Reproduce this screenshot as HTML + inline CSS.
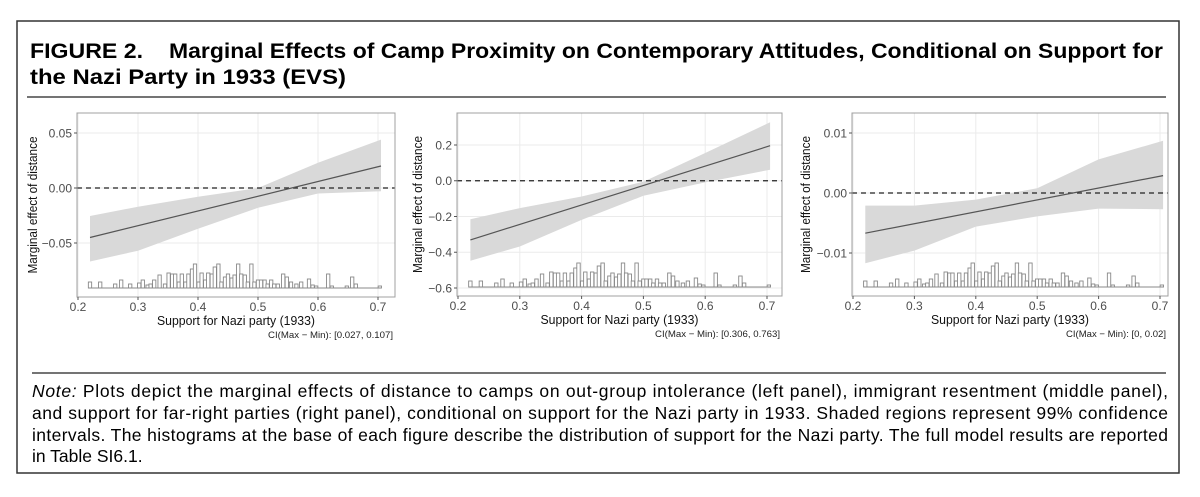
<!DOCTYPE html>
<html><head><meta charset="utf-8">
<style>
html,body{margin:0;padding:0;background:#fff;}
svg{display:block;}
text{font-family:"Liberation Sans",Arial,sans-serif;}
</style></head>
<body>
<svg id="fig" width="1200" height="497" viewBox="0 0 1200 497" xmlns="http://www.w3.org/2000/svg">
  <rect x="17" y="21" width="1162" height="452" fill="#fff" stroke="#333" stroke-width="1.5"/>
  <text x="30" y="58" font-size="21" font-weight="bold" textLength="113" lengthAdjust="spacingAndGlyphs">FIGURE 2.</text>
  <text x="169" y="58" font-size="21" font-weight="bold" textLength="994" lengthAdjust="spacingAndGlyphs">Marginal Effects of Camp Proximity on Contemporary Attitudes, Conditional on Support for</text>
  <text x="30" y="84" font-size="21" font-weight="bold" textLength="316" lengthAdjust="spacingAndGlyphs">the Nazi Party in 1933 (EVS)</text>
  <line x1="27" y1="97" x2="1166" y2="97" stroke="#222" stroke-width="1.3"/>
  <line x1="32" y1="373" x2="1166" y2="373" stroke="#222" stroke-width="1.3"/>
  <g id="panels"></g>
  <g font-size="17.5" fill="#000">
    <text x="32" y="397" textLength="1136" lengthAdjust="spacing"><tspan font-style="italic">Note:</tspan> Plots depict the marginal effects of distance to camps on out-group intolerance (left panel), immigrant resentment (middle panel),</text>
    <text x="32" y="419" textLength="1136" lengthAdjust="spacing">and support for far-right parties (right panel), conditional on support for the Nazi party in 1933. Shaded regions represent 99% confidence</text>
    <text x="32" y="441" textLength="1136" lengthAdjust="spacing">intervals. The histograms at the base of each figure describe the distribution of support for the Nazi party. The full model results are reported</text>
    <text x="32" y="462">in Table SI6.1.</text>
  </g>
</svg>
<script>
// shared histogram data (support for Nazi party bins)
const histX = [0.22,0.237,0.262,0.272,0.287,0.302,0.308,0.316,0.321,0.327,0.336,0.345,0.351,0.357,0.362,0.368,0.373,0.379,0.384,0.39,0.395,0.401,0.406,0.412,0.417,0.423,0.428,0.434,0.439,0.445,0.45,0.456,0.461,0.467,0.472,0.478,0.483,0.489,0.494,0.5,0.505,0.511,0.516,0.522,0.527,0.533,0.542,0.548,0.555,0.564,0.572,0.585,0.591,0.597,0.617,0.623,0.648,0.657,0.663,0.703];
const histCounts = [6,6,4,8,4,5,8,3,4,8,13,4,15,14,14,6,14,6,14,19,24,6,15,8,15,14,21,24,6,11,14,10,13,24,14,13,6,24,6,8,8,8,4,8,4,4,14,11,6,4,6,9,3,2,14,2,2,11,4,2];
const histBinWidth = 0.0055;

// panel 1: out-group intolerance
const p1Line = [-0.045, 0.020];
const ciX = [0.22,0.3,0.4,0.5,0.6,0.705];
const p1Upper = [-0.0255,-0.017,-0.008,0.0,0.023,0.044];
const p1Lower = [-0.0668,-0.057,-0.037,-0.018,-0.005,-0.003];
const p1Ticks = [0.05,0,-0.05];
const p1TickLabels = ["0.05","0.00","−0.05"];
// panel 2: immigrant resentment
const p2Line = [-0.331, 0.196];
const p2Upper = [-0.215,-0.153,-0.088,-0.006,0.155,0.327];
const p2Lower = [-0.447,-0.368,-0.219,-0.084,-0.009,0.062];
const p2Ticks = [0.2,0,-0.2,-0.4,-0.6];
const p2TickLabels = ["0.2","0.0","−0.2","−0.4","−0.6"];
// panel 3: far-right support
const p3Line = [-0.0067, 0.0029];
const p3Upper = [-0.0021,-0.0021,-0.0011,0.0008,0.0056,0.0087];
const p3Lower = [-0.0117,-0.0096,-0.0056,-0.0039,-0.0026,-0.0027];
const p3Ticks = [0.01,0,-0.01];
const p3TickLabels = ["0.01","0.00","−0.01"];

const xTicks = [0.2,0.3,0.4,0.5,0.6,0.7];
const xTickLabels = ["0.2","0.3","0.4","0.5","0.6","0.7"];
const lineX = [0.22, 0.705];
const ciLabels = ["CI(Max − Min): [0.027, 0.107]","CI(Max − Min): [0.306, 0.763]","CI(Max − Min): [0, 0.02]"];
const ciLabelWidths = [125, 125, 100];

const NS = "http://www.w3.org/2000/svg";
function mk(tag, attrs, parent){
  const e = document.createElementNS(NS, tag);
  for (const k in attrs) e.setAttribute(k, attrs[k]);
  parent.appendChild(e);
  return e;
}
const root = document.getElementById('panels');

const panels = [
  {name:'intolerance', left:77, right:395, top:113, bottom:297, x0:78, x1:378, ya:0.05, yaPx:133, yb:0, ybPx:188, line:p1Line, up:p1Upper, lo:p1Lower, ticks:p1Ticks, tl:p1TickLabels, ytx:37, ci:ciLabels[0], ciw:ciLabelWidths[0]},
  {name:'resentment', left:457, right:782, top:113, bottom:296, x0:458, x1:767, ya:0.2, yaPx:145, yb:-0.6, ybPx:288, line:p2Line, up:p2Upper, lo:p2Lower, ticks:p2Ticks, tl:p2TickLabels, ytx:422, ci:ciLabels[1], ciw:ciLabelWidths[1]},
  {name:'far-right', left:852, right:1168, top:113, bottom:296, x0:853, x1:1160, ya:0.01, yaPx:133, yb:-0.01, ybPx:253, line:p3Line, up:p3Upper, lo:p3Lower, ticks:p3Ticks, tl:p3TickLabels, ytx:810, ci:ciLabels[2], ciw:ciLabelWidths[2]}
];

panels.forEach((p, pi) => {
  const xs = v => p.x0 + (v - 0.2) / 0.5 * (p.x1 - p.x0);
  const ys = v => p.yaPx + (v - p.ya) / (p.yb - p.ya) * (p.ybPx - p.yaPx);
  const g = mk('g', {}, root);
  
  
  const clipId = 'clip' + pi;
  const cp = mk('clipPath', {id: clipId}, g);
  mk('rect', {x:p.left, y:p.top, width:p.right-p.left, height:p.bottom-p.top}, cp);
  const bg = mk('rect', {x:p.left, y:p.top, width:p.right-p.left, height:p.bottom-p.top, fill:'#fff'}, g);
  
  
  xTicks.forEach(t => {
    const l = mk('line', {x1:xs(t), x2:xs(t), y1:p.top, y2:p.bottom, stroke:'#ebebeb', 'stroke-width':1}, g);
    
    
  });
  p.ticks.forEach(t => {
    const l = mk('line', {x1:p.left, x2:p.right, y1:ys(t), y2:ys(t), stroke:'#ebebeb', 'stroke-width':1}, g);
    
    
  });
  const inner = mk('g', {'clip-path':'url(#'+clipId+')'}, g);
  let d = '';
  ciX.forEach((x,i) => { d += (i?'L':'M') + xs(x).toFixed(1) + ',' + ys(p.up[i]).toFixed(1); });
  for (let i = ciX.length-1; i >= 0; i--) d += 'L' + xs(ciX[i]).toFixed(1) + ',' + ys(p.lo[i]).toFixed(1);
  const rib = mk('path', {d: d+'Z', fill:'#d9d9d9', stroke:'none'}, inner);
  
  
  const z = mk('line', {x1:p.left, x2:p.right, y1:ys(0), y2:ys(0), stroke:'#222', 'stroke-width':1.2, 'stroke-dasharray':'5,4'}, inner);
  
  
  const ln = mk('line', {x1:xs(lineX[0]), y1:ys(p.line[0]), x2:xs(lineX[1]), y2:ys(p.line[1]), stroke:'#555', 'stroke-width':1.2}, inner);
  
  
  const base = p.bottom - 9;
  const maxC = Math.max(...histCounts);
  const hg = mk('g', {}, inner);
  
  
  histX.forEach((x,i) => {
    const h = histCounts[i] / maxC * 24;
    const r = mk('rect', {x:xs(x - histBinWidth/2), y:base - h, width:Math.max(1, xs(x+histBinWidth/2)-xs(x-histBinWidth/2)), height:h, fill:'#fff', stroke:'#888', 'stroke-width':0.9}, hg);
    
    
  });
  const hb = mk('line', {x1:xs(histX[0]-histBinWidth/2), x2:xs(histX[histX.length-1]+histBinWidth/2), y1:base, y2:base, stroke:'#888', 'stroke-width':1}, hg);
  
  
  const fr = mk('rect', {x:p.left, y:p.top, width:p.right-p.left, height:p.bottom-p.top, fill:'none', stroke:'#a0a0a0', 'stroke-width':1}, g);
  
  
  p.ticks.forEach((t,i) => {
    mk('line', {x1:p.left-3, x2:p.left, y1:ys(t), y2:ys(t), stroke:'#555', 'stroke-width':1}, g);
    const tx = mk('text', {x:p.left-5, y:ys(t)+4.3, 'font-size':12, fill:'#4d4d4d', 'text-anchor':'end'}, g);
    
    
    tx.textContent = p.tl[i];
  });
  xTicks.forEach((t,i) => {
    mk('line', {x1:xs(t), x2:xs(t), y1:p.bottom, y2:p.bottom+3, stroke:'#555', 'stroke-width':1}, g);
    const tx = mk('text', {x:xs(t), y:p.bottom+14, 'font-size':12, fill:'#4d4d4d', 'text-anchor':'middle'}, g);
    
    
    tx.textContent = xTickLabels[i];
  });
  const cx = (p.left + p.right) / 2;
  const xt = mk('text', {x:cx, y:p.bottom+28, 'font-size':13, fill:'#111', 'text-anchor':'middle', textLength:158, lengthAdjust:'spacingAndGlyphs'}, g);
  
  
  xt.textContent = 'Support for Nazi party (1933)';
  const cy = (p.top + p.bottom) / 2;
  const yt = mk('text', {x:p.ytx, y:cy, 'font-size':13, fill:'#111', 'text-anchor':'middle', transform:'rotate(-90 '+p.ytx+' '+cy+')', textLength:137, lengthAdjust:'spacingAndGlyphs'}, g);
  
  
  yt.textContent = 'Marginal effect of distance';
  const ct = mk('text', {x:p.right-2, y:p.bottom+41, 'font-size':9.5, fill:'#222', 'text-anchor':'end', textLength:p.ciw, lengthAdjust:'spacingAndGlyphs'}, g);
  
  
  ct.textContent = p.ci;
});
</script>
</body></html>
